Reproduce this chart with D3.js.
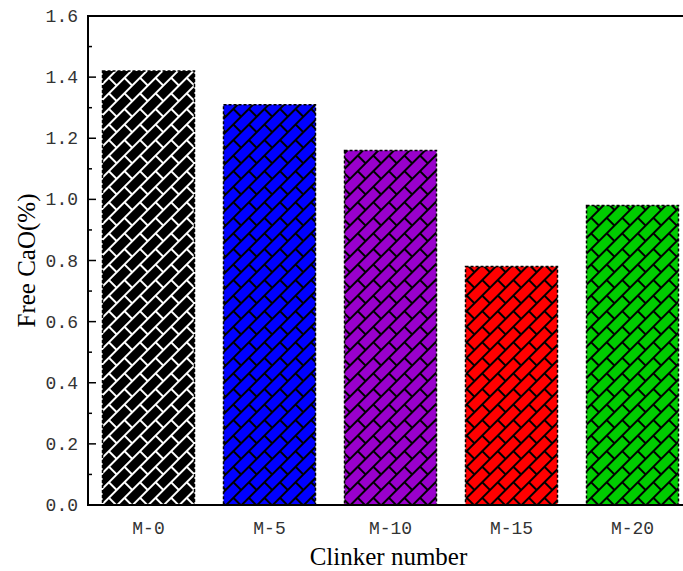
<!DOCTYPE html>
<html>
<head>
<meta charset="utf-8">
<script src="https://cdn.jsdelivr.net/npm/d3@7"></script>
<style>
    html, body { margin: 0; padding: 0; background: #fff; }
    svg { display: block; }
    .tick-label { font-family: "Liberation Mono", monospace; font-size: 18px; fill: #333; }
    .axis-title { font-family: "Liberation Serif", "Times New Roman", serif; font-size: 25px; fill: #000; }
</style>
</head>
<body>
<svg id="chart" width="683" height="571"></svg>
<script>
// ============================================================================
// FREE CaO - patterned bar chart
// ============================================================================

const clinkers = ['M-0', 'M-5', 'M-10', 'M-15', 'M-20'];
const freeCaO = [1.42, 1.31, 1.16, 0.78, 0.98];
const barColors = ['#000000', '#0000ff', '#9900cc', '#ff0000', '#00cc00'];
const patternInk = ['#ffffff', '#000000', '#000000', '#000000', '#000000'];
const yTicks = [0, 0.2, 0.4, 0.6, 0.8, 1.0, 1.2, 1.4, 1.6];

const margin = { left: 88, top: 16, right: -10, bottom: 66 };
const W = 683, H = 571;

const svg = d3.select('#chart');

const x = d3.scaleBand()
    .domain(clinkers)
    .range([margin.left, W - margin.right])
    .paddingInner(0.24)
    .paddingOuter(0.12);

const y = d3.scaleLinear()
    .domain([0, 1.6])
    .range([H - margin.bottom, margin.top]);

// Brick-like hatch patterns, one per bar
const defs = svg.append('defs');
clinkers.forEach((c, i) => {
    const p = defs.append('pattern')
        .attr('id', 'brick' + i)
        .attr('patternUnits', 'userSpaceOnUse')
        .attr('width', 22)
        .attr('height', 22)
        .attr('patternTransform', 'rotate(-45)');
    p.append('rect').attr('width', 22).attr('height', 22).attr('fill', barColors[i]);
    const ink = patternInk[i];
    [[0, 0, 22, 0], [0, 11, 22, 11], [0, 22, 22, 22], [0, 0, 0, 11], [22, 0, 22, 11], [11, 11, 11, 22]]
        .forEach(l => {
            p.append('line')
                .attr('x1', l[0]).attr('y1', l[1])
                .attr('x2', l[2]).attr('y2', l[3])
                .attr('stroke', ink)
                .attr('stroke-width', 1.6)
                .attr('shape-rendering', 'crispEdges');
        });
});

// Bars
svg.append('g')
    .selectAll('rect')
    .data(clinkers)
    .join('rect')
    .attr('x', d => x(d))
    .attr('y', (d, i) => y(freeCaO[i]))
    .attr('width', x.bandwidth())
    .attr('height', (d, i) => y(0) - y(freeCaO[i]))
    .attr('fill', (d, i) => `url(#brick${i})`)
    .attr('stroke', '#000')
    .attr('stroke-width', 1.5)
    .attr('stroke-dasharray', '3,2');

// Y axis with inward ticks
const yAxis = svg.append('g');
yAxis.append('line')
    .attr('x1', margin.left).attr('x2', margin.left)
    .attr('y1', y(1.6) - 1).attr('y2', y(0) + 1)
    .attr('stroke', '#000').attr('stroke-width', 2);

d3.range(0, 17).forEach(k => {
    const v = k / 10;
    const major = k % 2 === 0;
    yAxis.append('line')
        .attr('x1', margin.left).attr('x2', margin.left + (major ? 8 : 4))
        .attr('y1', y(v)).attr('y2', y(v))
        .attr('stroke', '#000').attr('stroke-width', 1.5);
});

yAxis.selectAll('text')
    .data(yTicks)
    .join('text')
    .attr('class', 'tick-label')
    .attr('x', margin.left - 10)
    .attr('y', d => y(d) + 6)
    .attr('text-anchor', 'end')
    .text(d => d.toFixed(1));

// X axis + top frame
svg.append('line')
    .attr('x1', margin.left - 1).attr('x2', W)
    .attr('y1', y(0)).attr('y2', y(0))
    .attr('stroke', '#000').attr('stroke-width', 2);

svg.append('line')
    .attr('x1', margin.left - 1).attr('x2', W)
    .attr('y1', y(1.6)).attr('y2', y(1.6))
    .attr('stroke', '#000').attr('stroke-width', 2);

svg.append('g')
    .selectAll('text')
    .data(clinkers)
    .join('text')
    .attr('class', 'tick-label')
    .attr('x', d => x(d) + x.bandwidth() / 2)
    .attr('y', y(0) + 29)
    .attr('text-anchor', 'middle')
    .text(d => d);

// Axis titles
svg.append('text')
    .attr('class', 'axis-title')
    .attr('x', (margin.left + W - margin.right) / 2 - 2)
    .attr('y', 565)
    .attr('text-anchor', 'middle')
    .text('Clinker number');

svg.append('text')
    .attr('class', 'axis-title')
    .attr('transform', `translate(35, ${y(0.8)}) rotate(-90)`)
    .attr('text-anchor', 'middle')
    .text('Free CaO(%)');
</script>
</body>
</html>
